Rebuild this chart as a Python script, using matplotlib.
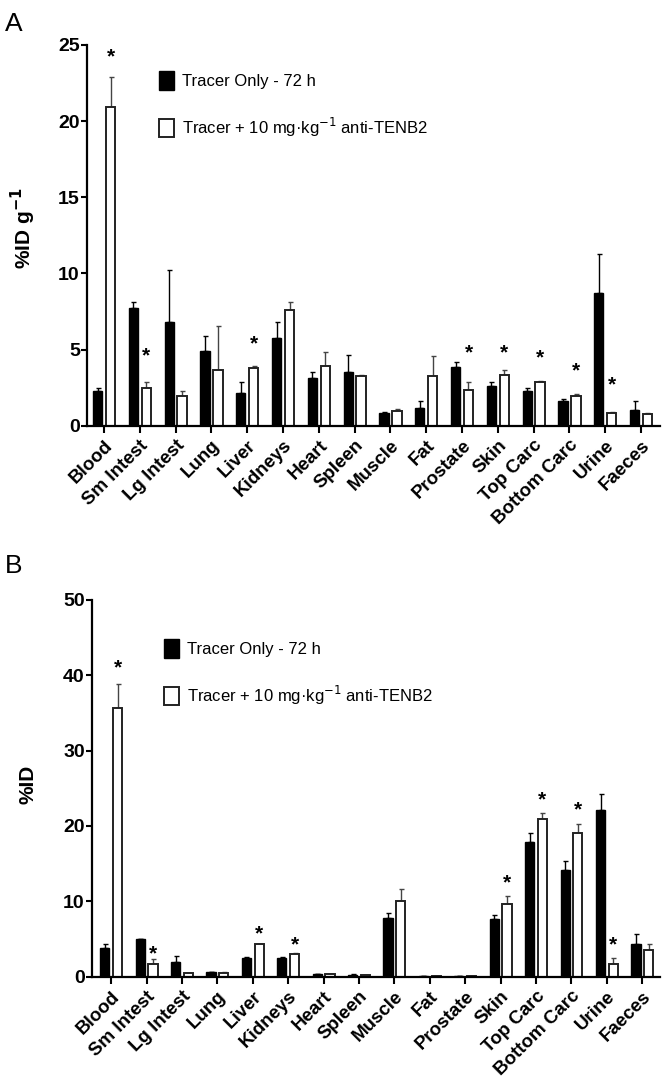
import matplotlib.pyplot as plt
import numpy as np

plt.rcParams['font.family'] = ['Liberation Sans', 'DejaVu Sans']

# 장기 이름
organs = ["Blood", "Sm Intest", "Lg Intest", "Lung", "Liver", "Kidneys", "Heart",
          "Spleen", "Muscle", "Fat", "Prostate", "Skin", "Top Carc", "Bottom Carc",
          "Urine", "Faeces"]

# A: %ID g-1
a_tracer = [2.25, 7.75, 6.83, 4.89, 2.14, 5.77, 3.13, 3.52, 0.81, 1.15, 3.83, 2.62, 2.25, 1.59, 8.74, 1.01]
a_tracer_err = [0.22, 0.38, 3.41, 0.99, 0.70, 1.03, 0.37, 1.15, 0.07, 0.50, 0.33, 0.22, 0.22, 0.17, 2.54, 0.58]
a_block = [20.9, 2.47, 1.92, 3.68, 3.79, 7.58, 3.94, 3.24, 0.99, 3.24, 2.36, 3.35, 2.86, 1.98, 0.86, 0.75]
a_block_err = [2.0, 0.37, 0.37, 2.86, 0.15, 0.55, 0.93, 0.11, 0.11, 1.36, 0.48, 0.28, 0.09, 0.09, 0.07, 0.11]
a_star = [24.2, 4.6, None, None, 5.35, None, None, None, None, None, 4.8, 4.8, 4.45, 3.6, 2.7, None]

# B: %ID
b_tracer = [3.86, 4.96, 1.9, 0.6, 2.45, 2.45, 0.3, 0.25, 7.8, 0.05, 0.05, 7.6, 17.85, 14.2, 22.06, 4.4]
b_tracer_err = [0.54, 0.1, 0.85, 0.05, 0.1, 0.1, 0.05, 0.05, 0.7, 0.02, 0.02, 0.65, 1.25, 1.15, 2.24, 1.2]
b_block = [35.6, 1.7, 0.5, 0.55, 4.3, 3.0, 0.3, 0.2, 10.1, 0.1, 0.05, 9.7, 20.9, 19.1, 1.67, 3.55]
b_block_err = [3.3, 0.6, 0.05, 0.05, 0.1, 0.1, 0.05, 0.05, 1.6, 0.02, 0.02, 0.95, 0.85, 1.2, 0.83, 0.85]
b_star = [41.0, 3.0, None, None, 5.7, 4.2, None, None, None, None, None, 12.4, 23.4, 22.2, 4.2, None]

leg1 = "Tracer Only - 72 h"
leg2 = "Tracer + 10 mg\u00b7kg$^{-1}$ anti-TENB2"

fig = plt.figure(figsize=(6.64, 10.92), dpi=100)
axA = fig.add_axes([0.1306, 0.6102, 0.8634, 0.3486])
axB = fig.add_axes([0.1381, 0.1056, 0.8559, 0.3450])

w = 0.26
off = 0.18


def draw(ax, tr, tr_err, bl, bl_err, stars, ymax, step, xlim, ylabel, legy):
    x = np.arange(len(organs))
    n = len(organs)
    ax.bar(x - off, tr, w, color="black", edgecolor="black", linewidth=1.0, label=leg1, zorder=2)
    ax.bar(x + off, bl, w, color="white", edgecolor="#222222", linewidth=1.4, label=leg2, zorder=2)
    ax.errorbar(x - off, tr, yerr=[np.zeros(n), tr_err], fmt="none", ecolor="black",
                elinewidth=1.0, capsize=1.8, capthick=1.0, zorder=1)
    ax.errorbar(x + off, bl, yerr=[np.zeros(n), bl_err], fmt="none", ecolor="#444444",
                elinewidth=1.0, capsize=1.8, capthick=1.0, zorder=1)
    for i, s in enumerate(stars):
        if s is not None:
            ax.text(x[i] + off, s, "*", ha="center", va="center", fontsize=15, fontweight="bold")
    ax.set_xlim(*xlim)
    ax.set_ylim(0, ymax)
    ax.set_yticks(np.arange(0, ymax + 1, step))
    ax.set_xticks(x)
    ax.set_xticklabels(organs, rotation=45, ha="right", rotation_mode="anchor",
                       fontsize=13.5, fontweight="bold")
    ax.tick_params(axis="y", labelsize=14, width=1.5, length=4, pad=1)
    ax.tick_params(axis="x", width=1.5, length=5, pad=3)
    for lab in ax.get_yticklabels():
        lab.set_fontweight("bold")
    for sp in ["top", "right"]:
        ax.spines[sp].set_visible(False)
    for sp in ["left", "bottom"]:
        ax.spines[sp].set_linewidth(1.6)
    ax.set_ylabel(ylabel, fontsize=15, fontweight="bold")
    ax.legend(loc="upper left", bbox_to_anchor=(0.1, legy), frameon=False, fontsize=12,
              handlelength=0.9, handleheight=1.3, labelspacing=1.55, handletextpad=0.5)


draw(axA, a_tracer, a_tracer_err, a_block, a_block_err, a_star, 25, 5, (-0.485, 15.53),
     "%ID g$^{\\mathbf{-1}}$", 0.97)
draw(axB, b_tracer, b_tracer_err, b_block, b_block_err, b_star, 50, 10, (-0.55, 15.5),
     "%ID", 0.935)

axA.yaxis.set_label_coords(-0.085, 0.52)
axB.yaxis.set_label_coords(-0.095, 0.51)

fig.text(0.008, 0.989, "A", fontsize=19, va="top")
fig.text(0.008, 0.493, "B", fontsize=19, va="top")

fig.savefig("out.png", dpi=100)
